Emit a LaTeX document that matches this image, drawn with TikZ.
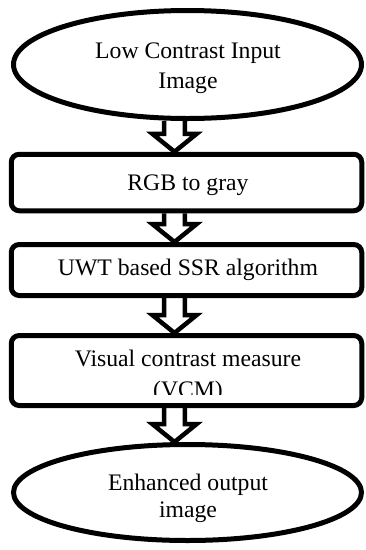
\documentclass[tikz,border=0pt]{standalone}
\usepackage{fontspec}
\setmainfont{Liberation Serif}
\usetikzlibrary{shapes.geometric,calc}
\pgfdeclarelayer{background}
\pgfsetlayers{background,main}
\tikzset{
  shapebox/.style={draw, line width=5pt, rounded corners=8pt, minimum width=350.5pt, inner sep=0pt},
  oval/.style={draw, ellipse, line width=5pt, minimum width=348pt, inner sep=0pt},
  txt/.style={anchor=base, inner sep=0pt, font=\fontsize{23.7}{30}\selectfont},
  arrowbox/.style={draw, fill=white, line width=4.5pt, line join=miter}
}
\newcommand\blockarrow[2]{%
  \draw[arrowbox] let \p1=(#1.south), \p2=(#2.north), \p3=(axis) in
    (\x3-10.4pt,\y1) -- (\x3-10.4pt,\y2+18pt) -- (\x3-22.2pt,\y2+18pt) --
    (\x3,\y2) -- (\x3+22.2pt,\y2+18pt) -- (\x3+10.4pt,\y2+18pt) -- (\x3+10.4pt,\y1);}
\begin{document}
\begin{tikzpicture}[x=1pt,y=-1pt]
\useasboundingbox (0,0) rectangle (365,550);
\coordinate (axis) at (174.5,0);
% shapes
\node[oval, minimum height=108pt] (e1) at (187.5,64.5) {};
\node[shapebox, minimum height=56.5pt] (b1) at (186.5,182.5) {};
\node[shapebox, minimum height=51pt] (b2) at (186.5,270) {};
\node[shapebox, minimum height=70pt] (b3) at (186.5,370.5) {};
\node[oval, minimum height=96pt] (e2) at (187.5,492.5) {};
% texts
\node[txt] (t1) at (188,58) {\begin{tabular}[t]{@{}c@{}}Low Contrast Input\\Image\end{tabular}};
\node[txt] (t2) at (188,190) {RGB to gray};
\node[txt] (t3) at (188,275) {UWT based SSR algorithm};
\begin{scope}
  \clip (12,338) rectangle (361,394.5);
  \node[txt] (t4) at (188,366) {\begin{tabular}[t]{@{}c@{}}Visual contrast measure\\[1pt](VCM)\end{tabular}};
\end{scope}
\node[txt] (t5) at (188,490) {\begin{tabular}[t]{@{}c@{}}Enhanced output\\[-3pt]image\end{tabular}};
% block arrows
\begin{pgfonlayer}{background}
\blockarrow{e1}{b1}
\blockarrow{b1}{b2}
\blockarrow{b2}{b3}
\blockarrow{b3}{e2}
\end{pgfonlayer}
\end{tikzpicture}
\end{document}
